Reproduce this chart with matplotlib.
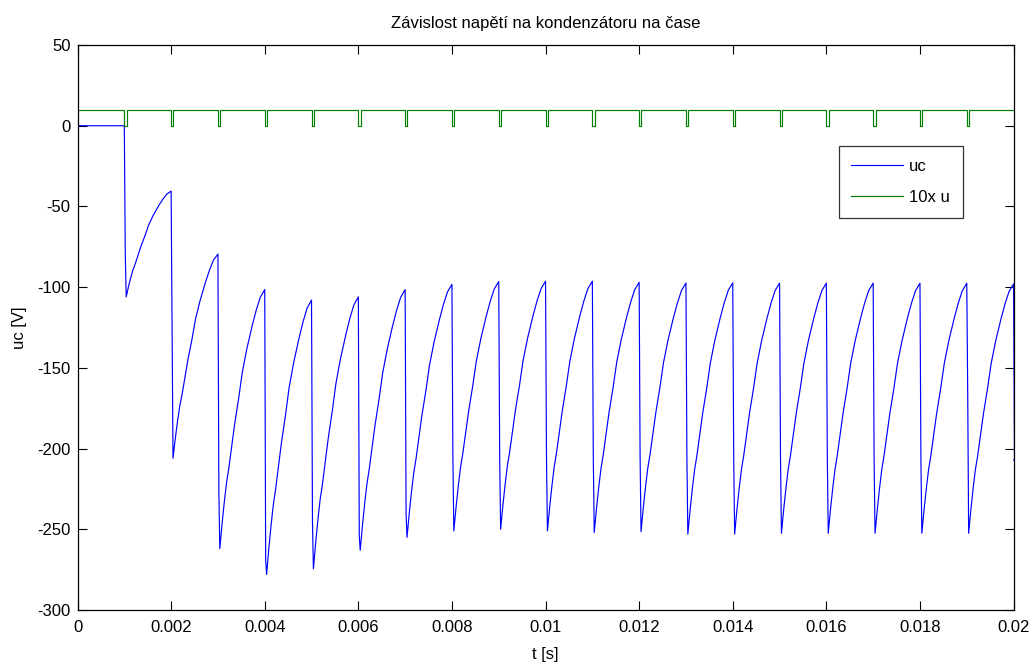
import matplotlib
matplotlib.use("Agg")
import matplotlib.pyplot as plt
import numpy as np

plt.rcParams['font.family'] = ['Liberation Sans', 'DejaVu Sans']
plt.rcParams['axes.unicode_minus'] = False

# ---- data ----
switch_times = [0.001 * k for k in range(1, 21)]          # switching instants
# value of uc just before each switching instant
uc_peaks = [0.0, -40.5, -79.5, -101.5, -108.0, -106.0, -101.5, -98.3, -96.5, -96.3,
            -96.3, -97.0, -97.5, -97.3, -97.5, -97.5, -97.5, -97.6, -97.6, -98.0]
# intermediate kink during each drop
uc_mids = [-79.0, -123.0, -227.0, -269.0, -246.0, -254.0, -240.0, -205.0, -205.0, -205.0,
           -205.0, -205.0, -205.0, -205.0, -205.0, -205.0, -206.0, -206.0, -165.0, -207.0]
# value of uc right after each drop
uc_troughs = [-106.0, -206.0, -262.0, -278.0, -274.5, -263.0, -255.0, -251.0, -250.0, -251.0,
              -252.0, -251.5, -253.0, -253.0, -252.5, -252.5, -252.5, -252.5, -252.5, -207.0]
# shape of one recharge segment (fraction of period -> fraction of rise)
rise_frac_t = [0.0, 0.05, 0.1, 0.15, 0.2, 0.27, 0.33, 0.42, 0.5, 0.6, 0.72, 0.81, 0.9, 1.0]
rise_frac_v = [0.0, 0.095, 0.18, 0.255, 0.31, 0.40, 0.48, 0.58, 0.68, 0.77, 0.86, 0.92, 0.97, 1.0]
drop_dt = 0.00004

u_high = 10.0      # 10x u level
u_low = 0.0
pulse_width = 0.00005

x_ticks = [0, 0.002, 0.004, 0.006, 0.008, 0.01, 0.012, 0.014, 0.016, 0.018, 0.02]
x_tick_labels = ['0', '0.002', '0.004', '0.006', '0.008', '0.01', '0.012', '0.014',
                 '0.016', '0.018', '0.02']
y_ticks = [-300, -250, -200, -150, -100, -50, 0, 50]

# ---- build the traces ----
t_uc = [0.0, switch_times[0]]
v_uc = [0.0, uc_peaks[0]]
n = len(switch_times)
for k in range(n):
    tk = switch_times[k]
    if k > 0:
        t_uc.append(tk); v_uc.append(uc_peaks[k])
    t_uc.append(tk + drop_dt / 2); v_uc.append(uc_mids[k])
    if k == n - 1:
        t_uc.append(tk); v_uc.append(uc_troughs[k])
        break
    t_uc.append(tk + drop_dt); v_uc.append(uc_troughs[k])
    span = switch_times[k + 1] - (tk + drop_dt)
    for ft, fv in zip(rise_frac_t[1:-1], rise_frac_v[1:-1]):
        t_uc.append(tk + drop_dt + ft * span)
        v_uc.append(uc_troughs[k] + fv * (uc_peaks[k + 1] - uc_troughs[k]))

t_u = [0.0]
v_u = [u_high]
for tk in switch_times[:-1]:
    t_u += [tk, tk, tk + pulse_width, tk + pulse_width]
    v_u += [u_high, u_low, u_low, u_high]
t_u.append(0.02); v_u.append(u_high)

# ---- plot ----
fig = plt.figure(figsize=(10.35, 6.7), dpi=100)
ax = fig.add_axes([0.0749, 0.0896, 0.9044, 0.8432])

ax.plot(t_uc, v_uc, color=(0, 0, 1), lw=0.85, label='uc')
ax.plot(t_u, v_u, color=(0, 0.5, 0), lw=0.85, label='10x u')

ax.set_xlim(0, 0.02)
ax.set_ylim(-300, 50)
ax.set_xticks(x_ticks)
ax.set_xticklabels(x_tick_labels)
ax.set_yticks(y_ticks)
ax.tick_params(direction='in', length=6.5, width=0.8, top=True, right=True,
               labelsize=12, colors='black')
ax.tick_params(axis='x', pad=7)
ax.tick_params(axis='y', pad=5)
for s in ax.spines.values():
    s.set_linewidth(0.9)
    s.set_color('black')

ax.set_title('Závislost napětí na kondenzátoru na čase', fontsize=12, pad=12)
ax.set_xlabel('t [s]', fontsize=12, labelpad=9)
ax.set_ylabel('uc [V]', fontsize=12, labelpad=7)

leg = ax.legend(loc='upper left', bbox_to_anchor=(0.813, 0.821), fontsize=12,
                frameon=True, fancybox=False, shadow=False, handlelength=3.1,
                handletextpad=0.4, labelspacing=1.0, borderpad=0.75,
                borderaxespad=0.0)
leg.get_frame().set_edgecolor('black')
leg.get_frame().set_linewidth(0.9)

fig.savefig('out.png', dpi=100)
